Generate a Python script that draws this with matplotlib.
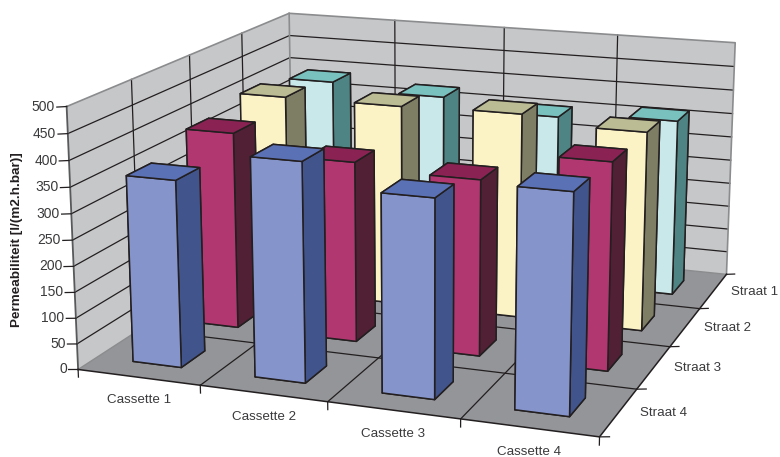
import numpy as np
import matplotlib
matplotlib.use("Agg")
import matplotlib.pyplot as plt
from mpl_toolkits.mplot3d import proj3d
from mpl_toolkits.mplot3d.art3d import Poly3DCollection

plt.rcParams["font.family"] = "Liberation Sans"

cassettes = ["Cassette 1", "Cassette 2", "Cassette 3", "Cassette 4"]
straten = ["Straat 4", "Straat 3", "Straat 2", "Straat 1"]  # front to back
z_ticks = [0, 50, 100, 150, 200, 250, 300, 350, 400, 450, 500]

straat_4 = [360, 417, 373, 407]
straat_3 = [392, 356, 344, 400]
straat_2 = [411, 411, 415, 399]
straat_1 = [392, 378, 355, 366]
heights = [straat_4, straat_3, straat_2, straat_1]

# bottom, top, front, back, left, right
face_colors = [
    ["#41558c", "#5b71b5", "#8595cc", "#41558c", "#41558c", "#41558c"],
    ["#522035", "#8a2354", "#b13770", "#522035", "#522035", "#522035"],
    ["#7e7e64", "#bcbc94", "#fbf3c6", "#7e7e64", "#7e7e64", "#7e7e64"],
    ["#4e8584", "#79c1bf", "#c9e8ea", "#4e8584", "#4e8584", "#4e8584"],
]

WALL = "#c6c7c9"
FLOOR = "#949598"
DARK = "#231f20"
EDGE = "#8b8c8e"
TEXT = "#3a3a3c"

fig = plt.figure(figsize=(7.8, 4.57), dpi=100)
# axes square sized so the fitted camera lands on the reference corners
ax = fig.add_axes([41.6 / 780, (457 - 579.9) / 457, 744.8 / 780, 744.8 / 457], projection="3d")
ax.computed_zorder = False
ax.view_init(15.026, -70.023)
ax.set_proj_type("persp", focal_length=0.54)
ax.set_box_aspect((1, 1.003, 0.499))
ax.set_axis_off()

nx, ny, top = len(cassettes), len(straten), z_ticks[-1]

# walls and floor
walls = [
    [(0, 0, 0), (0, ny, 0), (0, ny, top), (0, 0, top)],
    [(0, ny, 0), (nx, ny, 0), (nx, ny, top), (0, ny, top)],
]
ax.add_collection3d(Poly3DCollection(walls, facecolors=WALL, edgecolors="none", zorder=1))
ax.add_collection3d(
    Poly3DCollection(
        [[(0, 0, 0), (nx, 0, 0), (nx, ny, 0), (0, ny, 0)]],
        facecolors=FLOOR, edgecolors="none", zorder=1,
    )
)

# gridlines
for z in z_ticks[1:-1]:
    ax.plot([0, 0, nx], [0, ny, ny], [z, z, z], color=DARK, lw=0.9, zorder=2)
for i in range(1, nx):
    ax.plot([i, i, i], [0, ny, ny], [0, 0, top], color=DARK, lw=0.9, zorder=2)
for j in range(1, ny):
    ax.plot([0, 0, nx], [j, j, j], [top, 0, 0], color=DARK, lw=0.9, zorder=2)

# outer edges
ax.plot([0, 0, nx, nx], [0, ny, ny, ny], [top, top, top, 0], color=EDGE, lw=1.2, zorder=3)
ax.plot([0, 0], [ny, ny], [0, top], color=EDGE, lw=1.2, zorder=3)
ax.plot([0, 0], [0, ny], [0, 0], color=EDGE, lw=1.0, zorder=3)
ax.plot([0, nx], [ny, ny], [0, 0], color=EDGE, lw=1.0, zorder=3)
ax.plot([0, 0], [0, 0], [0, top], color="#58595b", lw=1.3, zorder=3)
ax.plot([0, nx, nx], [0, 0, ny], [0, 0, 0], color=DARK, lw=1.1, zorder=3)

# bars, back row first, left to right
for j in reversed(range(ny)):
    for i in range(nx):
        bar = ax.bar3d(
            i + 0.3, j + 0.3, 0, 0.4, 0.4, heights[j][i],
            color=face_colors[j], edgecolor=DARK, linewidth=1.1, shade=False,
        )
        bar.set_zorder(10 + (ny - j) * 10 + i)

# ticks
for z in z_ticks:
    ax.plot([-0.08, 0], [0, 0], [z - 2.5, z], color=DARK, lw=0.9, zorder=3)
for i in range(nx + 1):
    ax.plot([i, i], [0, 0], [0, -15], color=DARK, lw=0.9, zorder=3)
for j in range(ny + 1):
    ax.plot([nx, nx + 0.07], [j, j], [0, 2.5], color=DARK, lw=0.9, zorder=3)

ax.set_xlim(0, nx)
ax.set_ylim(0, ny)
ax.set_zlim(0, top)
# no default ticks, all labels below are placed by hand
ax.set_xticks([])
ax.set_yticks([])
ax.set_zticks([])


def label(x, y, z, text, **kwargs):
    # project to 2D so the text keeps a plain position in the axes
    x2, y2, _ = proj3d.proj_transform(x, y, z, ax.get_proj())
    ax.text2D(x2, y2, text, transform=ax.transData, va="center", color=TEXT, zorder=100, **kwargs)


for z in z_ticks:
    label(-0.095, 0, z - 2.5, str(z), ha="right", fontsize=10)
for i, name in enumerate(cassettes):
    label(i + 0.5, 0, -45, name, ha="center", fontsize=9.6)
for j, name in enumerate(straten):
    label(nx + 0.15, j + 0.5, 3, name, ha="left", fontsize=9.6)

fig.text(17 / 780, 1 - 240 / 457, "Permeabiliteit [l/(m2.h.bar)]", rotation=90,
         ha="center", va="center", fontsize=9.7, fontweight="bold", color=DARK)

fig.savefig("out.png", dpi=100)
